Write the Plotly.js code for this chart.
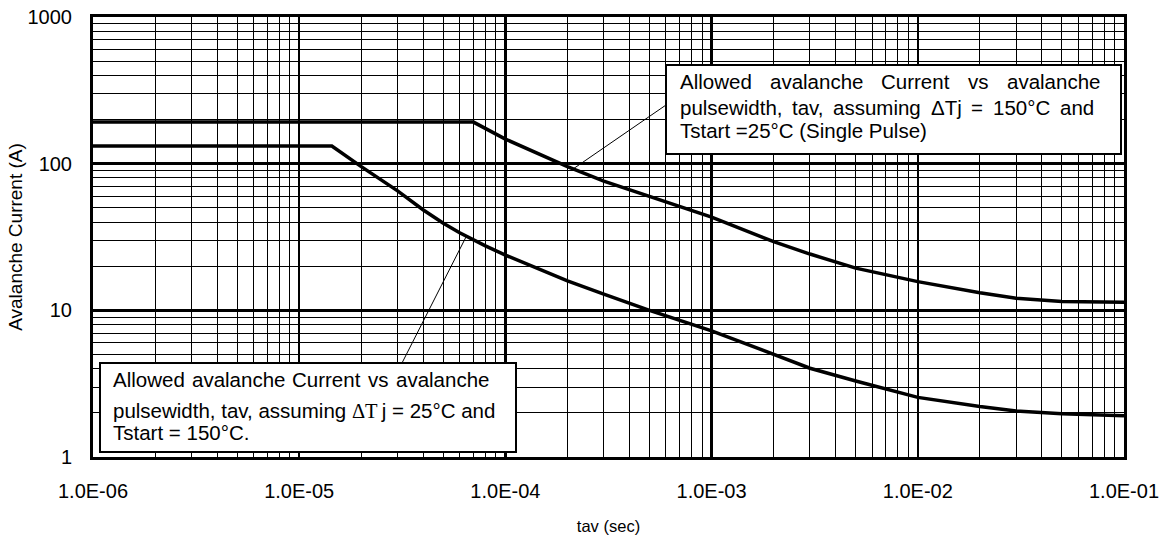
<!DOCTYPE html>
<html><head><meta charset="utf-8">
<script src="https://cdn.plot.ly/plotly-3.0.1.min.js"></script>
<style>html,body{margin:0;padding:0;background:#fff}#chart{width:1163px;height:535px}</style>
</head><body><div id="chart"></div>
<script>
// ---- data ----
const upperX = [1e-6, 7e-5, 1e-4, 2e-4, 3e-4, 5e-4, 1e-3, 2e-3, 3e-3, 5e-3, 1e-2, 2e-2, 3e-2, 5e-2, 1e-1];
const upperY = [192, 192, 147, 95.5, 76, 59.6, 43.2, 29.4, 24.2, 19.4, 15.7, 13.2, 12.1, 11.5, 11.35];
const lowerX = [1e-6, 1.44e-5, 2e-5, 3e-5, 4e-5, 5e-5, 6e-5, 7e-5, 8e-5, 1e-4, 2e-4, 3e-4, 5e-4, 1e-3, 2e-3, 3e-3, 5e-3, 1e-2, 2e-2, 3e-2, 5e-2, 1e-1];
const lowerY = [132, 132, 95.5, 65.2, 48.3, 39.2, 33.8, 30.1, 27.5, 23.8, 15.9, 12.9, 10, 7.25, 4.97, 4.03, 3.3, 2.55, 2.21, 2.06, 1.97, 1.91];
const xTickVals = [1e-6, 1e-5, 1e-4, 1e-3, 1e-2, 1e-1];
const xTickText = ['1.0E-06', '1.0E-05', '1.0E-04', '1.0E-03', '1.0E-02', '1.0E-01'];
const yTickVals = [1, 10, 100, 1000];
const yTickText = ['1', '10', '100', '1000'];
const xTitle = 'tav (sec)';
const yTitle = 'Avalanche Current (A)';
const note1 = [
  ['Allowed', 'avalanche', 'Current', 'vs', 'avalanche'],
  ['pulsewidth,', 'tav,', 'assuming', '\u0394Tj', '=', '150\u00b0C', 'and'],
  'Tstart =25\u00b0C (Single Pulse)'
];
const note2 = [
  ['Allowed', 'avalanche', 'Current', 'vs', 'avalanche'],
  'pulsewidth, tav, assuming <span style="font-family:\'Liberation Serif\',serif">\u0394T</span>\u2009j = 25\u00b0C and',
  'Tstart = 150\u00b0C.'
];

// ---- layout geometry (pixels) ----
const W = 1163, H = 535;
const L = 93, R = 1124, T = 17, B = 457;
const px = x => (x - L) / (R - L);
const py = y => (B - y) / (B - T);
const FONT = '"Liberation Sans", Arial, Helvetica, sans-serif';
const FS = 20.5;
const TICKFS = 20;

function minorVals(lo, hi) {
  const v = [];
  for (let e = lo; e < hi; e++) for (let d = 2; d <= 9; d++) v.push(d * Math.pow(10, e));
  return v;
}

const cv = document.createElement('canvas').getContext('2d');
function tw(t) { cv.font = FS + 'px "Liberation Sans"'; return cv.measureText(t).width; }

const annotations = [];
function justified(words, left, right, yc) {
  const sum = words.reduce((a, w) => a + tw(w), 0);
  const gap = (right - left - sum) / (words.length - 1);
  let x = left;
  words.forEach(w => {
    annotations.push({xref: 'paper', yref: 'paper', x: px(x), y: py(yc), xanchor: 'left', yanchor: 'middle',
      text: w, showarrow: false, borderpad: 0, font: {family: FONT, size: FS, color: '#000'}});
    x += tw(w) + gap;
  });
}
function plain(text, left, yc) {
  annotations.push({xref: 'paper', yref: 'paper', x: px(left), y: py(yc), xanchor: 'left', yanchor: 'middle',
    text: text, showarrow: false, borderpad: 0, font: {family: FONT, size: FS, color: '#000'}});
}

justified(note1[0], 679, 1099, 81);
justified(note1[1], 679, 1093, 108);
plain(note1[2], 679, 130);
justified(note2[0], 112, 488, 379);
plain(note2[1], 112, 410);
plain(note2[2], 112, 432);

const shapes = [
  {type: 'line', xref: 'paper', yref: 'paper', x0: px(573), y0: py(169), x1: px(666), y1: py(105), line: {color: '#000', width: 1}, layer: 'above'},
  {type: 'line', xref: 'paper', yref: 'paper', x0: px(467), y0: py(235), x1: px(402), y1: py(363), line: {color: '#000', width: 1}, layer: 'above'},
  {type: 'rect', xref: 'paper', yref: 'paper', x0: px(666), y0: py(154), x1: px(1121), y1: py(65), line: {color: '#000', width: 2}, fillcolor: '#fff', layer: 'above'},
  {type: 'rect', xref: 'paper', yref: 'paper', x0: px(100), y0: py(452), x1: px(516), y1: py(363), line: {color: '#000', width: 2}, fillcolor: '#fff', layer: 'above'}
];

const lineStyle = {color: '#000', width: 3.5};
const traces = [
  {x: upperX, y: upperY, type: 'scatter', mode: 'lines', line: lineStyle, hoverinfo: 'skip'},
  {x: lowerX, y: lowerY, type: 'scatter', mode: 'lines', line: lineStyle, hoverinfo: 'skip'}
];

const axisCommon = {
  type: 'log', showline: true, mirror: true, linecolor: '#000', linewidth: 3,
  showgrid: true, gridcolor: '#000', gridwidth: 2.5, zeroline: false, ticks: '',
  tickmode: 'array', tickfont: {family: FONT, size: TICKFS, color: '#000'}, fixedrange: true
};

const layout = {
  width: W, height: H, paper_bgcolor: '#fff', plot_bgcolor: '#fff', showlegend: false,
  margin: {l: L, r: W - R, t: T, b: H - B, pad: 0},
  font: {family: FONT, color: '#000'},
  xaxis: Object.assign({}, axisCommon, {
    range: [-6, -1], tickvals: xTickVals, ticktext: xTickText, ticklabelstandoff: 14,
    minor: {tickmode: 'array', tickvals: minorVals(-6, -1), showgrid: true, gridcolor: '#000', gridwidth: 1, ticks: ''},
    title: {text: xTitle, font: {family: FONT, size: 16.5, color: '#000'}, standoff: 20}
  }),
  yaxis: Object.assign({}, axisCommon, {
    range: [0, 3], tickvals: yTickVals, ticktext: yTickText, ticklabelstandoff: 14,
    minor: {tickmode: 'array', tickvals: minorVals(0, 3), showgrid: true, gridcolor: '#000', gridwidth: 1, ticks: ''},
    title: {text: yTitle, font: {family: FONT, size: 19, color: '#000'}, standoff: 0}
  }),
  shapes: shapes,
  annotations: annotations
};

Plotly.newPlot('chart', traces, layout, {displayModeBar: false, staticPlot: true});
</script>
</body></html>
